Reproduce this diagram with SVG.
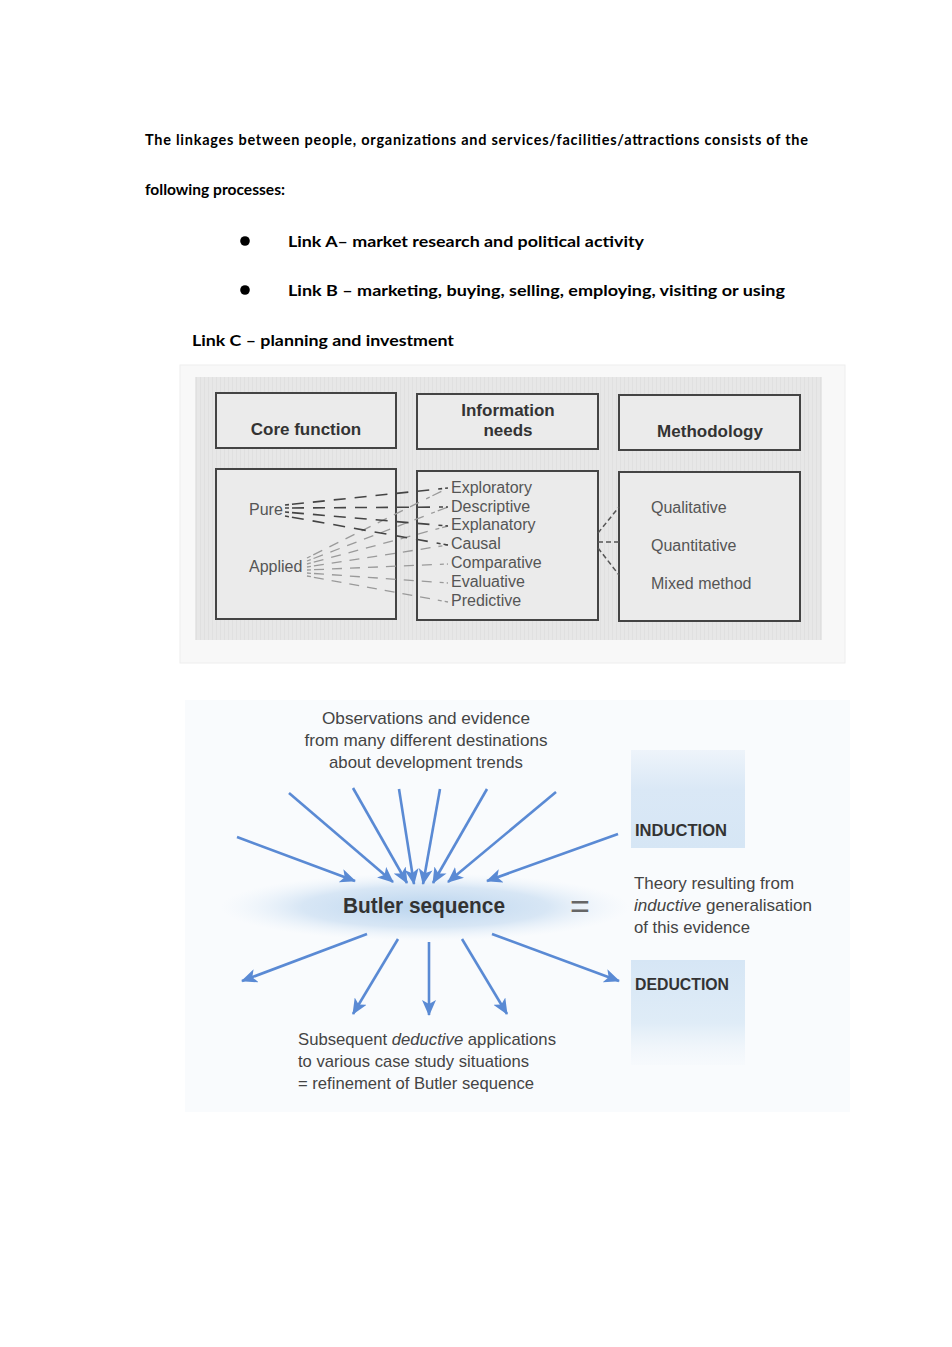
<svg xmlns="http://www.w3.org/2000/svg" width="952" height="1347" viewBox="0 0 952 1347">
<defs>
<style>
.p{font-family:Lato,"Liberation Sans",sans-serif;font-weight:bold;fill:#000}
.hd{font-family:"Liberation Sans",Arial,sans-serif;font-weight:bold;font-size:17px;fill:#333;text-anchor:middle}
.lt{font-family:"Liberation Sans",Arial,sans-serif;font-size:16px;fill:#555}
.box{fill:#ebebeb;stroke:#444;stroke-width:2}
.dk{stroke:#444;stroke-width:1.6;stroke-dasharray:4 3 12 9 12 9 12 9 12 9 12 9 12 9 12 9;fill:none}
.lg{stroke:#9a9a9a;stroke-width:1.3;stroke-dasharray:4 3 10 8 10 8 10 8 10 8 10 8 10 8 10 8;fill:none}
.md{stroke:#555;stroke-width:1.5;stroke-dasharray:5 3;fill:none}
.bt{font-family:"Liberation Sans",Arial,sans-serif;font-size:17px;fill:#444}
.bb{font-family:"Liberation Sans",Arial,sans-serif;font-weight:bold;fill:#333}
.eq{font-family:"Liberation Sans",Arial,sans-serif;font-size:34px;fill:#666;text-anchor:middle}
.ar{stroke:#5a8ad4;stroke-width:2.6;fill:none;marker-end:url(#ah)}
</style>
<marker id="ah" markerUnits="userSpaceOnUse" markerWidth="16" markerHeight="14" viewBox="0 0 16 14" refX="15" refY="7" orient="auto">
<path d="M0,0 L16,7 L0,14 L4,7 z" fill="#5a8ad4"/>
</marker>
<radialGradient id="glow" cx="0.5" cy="0.5" r="0.5">
<stop offset="0" stop-color="#b9d4ee"/>
<stop offset="0.6" stop-color="#cfe1f3" stop-opacity="0.8"/>
<stop offset="1" stop-color="#e8f1fa" stop-opacity="0"/>
</radialGradient>
<linearGradient id="indg" x1="0" y1="0" x2="0" y2="1">
<stop offset="0" stop-color="#dce9f6" stop-opacity="0.4"/>
<stop offset="0.4" stop-color="#dae8f6"/>
<stop offset="1" stop-color="#d6e6f5"/>
</linearGradient>
<linearGradient id="dedg" x1="0" y1="0" x2="0" y2="1">
<stop offset="0" stop-color="#d6e6f5"/>
<stop offset="0.6" stop-color="#dfecf7"/>
<stop offset="1" stop-color="#eef4fa" stop-opacity="0.2"/>
</linearGradient>
<pattern id="stripe" width="4" height="4" patternUnits="userSpaceOnUse">
<rect width="4" height="4" fill="#e7e7e7"/>
<rect width="1" height="4" fill="#e0e0e0"/>
</pattern>
</defs>
<rect width="952" height="1347" fill="#ffffff"/>

<g id="intro">
<text class="p" x="145" y="145" font-size="14.5" textLength="663" lengthAdjust="spacing">The linkages between people, organizations and services/facilities/attractions consists of the</text>
<text class="p" x="145" y="195" font-size="14.5" textLength="140" lengthAdjust="spacingAndGlyphs">following processes:</text>
<circle cx="245" cy="241" r="4.8" fill="#000"/>
<circle cx="245" cy="290" r="4.8" fill="#000"/>
<text class="p" x="288" y="247" font-size="16" textLength="356" lengthAdjust="spacingAndGlyphs">Link A– market research and political activity</text>
<text class="p" x="288" y="296" font-size="16" textLength="497" lengthAdjust="spacingAndGlyphs">Link B – marketing, buying, selling, employing, visiting or using</text>
<text class="p" x="192" y="346" font-size="16" textLength="262" lengthAdjust="spacingAndGlyphs">Link C – planning and investment</text>
</g>

<g id="diagram1-frame">
<rect x="180" y="365" width="665" height="298" fill="#f8f8f8" stroke="#eeeeee" stroke-width="1"/>
<rect x="195" y="377" width="627" height="263" fill="url(#stripe)"/>
</g>

<g id="core-function">
<rect class="box" x="216" y="393" width="180" height="55"/>
<text class="hd" x="306" y="435">Core function</text>
</g>
<g id="information-needs">
<rect class="box" x="417" y="394" width="181" height="55"/>
<text class="hd" x="508" y="416">Information</text>
<text class="hd" x="508" y="436">needs</text>
</g>
<g id="methodology">
<rect class="box" x="619" y="395" width="181" height="55"/>
<text class="hd" x="710" y="437">Methodology</text>
</g>

<g id="core-types">
<rect class="box" x="216" y="469" width="180" height="150"/>
<text class="lt" x="249" y="515">Pure</text>
<text class="lt" x="249" y="572">Applied</text>
</g>
<g id="needs-list">
<rect class="box" x="417" y="471" width="181" height="149"/>
<text class="lt" x="451" y="493">Exploratory</text>
<text class="lt" x="451" y="512">Descriptive</text>
<text class="lt" x="451" y="530">Explanatory</text>
<text class="lt" x="451" y="549">Causal</text>
<text class="lt" x="451" y="568">Comparative</text>
<text class="lt" x="451" y="587">Evaluative</text>
<text class="lt" x="451" y="606">Predictive</text>
</g>
<g id="methods">
<rect class="box" x="619" y="472" width="181" height="149"/>
<text class="lt" x="651" y="513">Qualitative</text>
<text class="lt" x="651" y="551">Quantitative</text>
<text class="lt" x="651" y="589">Mixed method</text>
</g>

<g id="connectors-diagram1">
<line class="lg" x1="307" y1="558" x2="448" y2="488"/>
<line class="lg" x1="307" y1="561" x2="448" y2="507"/>
<line class="lg" x1="307" y1="564" x2="448" y2="526"/>
<line class="lg" x1="307" y1="567" x2="448" y2="545"/>
<line class="lg" x1="307" y1="570" x2="448" y2="564"/>
<line class="lg" x1="307" y1="573" x2="448" y2="583"/>
<line class="lg" x1="307" y1="576" x2="448" y2="602"/>
<line class="dk" x1="285" y1="505" x2="448" y2="488"/>
<line class="dk" x1="285" y1="508" x2="448" y2="507"/>
<line class="dk" x1="285" y1="512" x2="448" y2="526"/>
<line class="dk" x1="285" y1="516" x2="448" y2="545"/>
<line class="md" x1="598" y1="533" x2="619" y2="507"/>
<line class="md" x1="598" y1="542" x2="619" y2="542"/>
<line class="md" x1="598" y1="548" x2="619" y2="575"/>
</g>

<g id="diagram2-frame">
<rect x="185" y="700" width="665" height="412" fill="#f9fbfd"/>
<ellipse cx="425" cy="907" rx="205" ry="34" fill="url(#glow)"/>
</g>

<g id="observations">
<text class="bt" x="426" y="724" text-anchor="middle" textLength="208" lengthAdjust="spacingAndGlyphs">Observations and evidence</text>
<text class="bt" x="426" y="746" text-anchor="middle" textLength="243" lengthAdjust="spacingAndGlyphs">from many different destinations</text>
<text class="bt" x="426" y="768" text-anchor="middle" textLength="194" lengthAdjust="spacingAndGlyphs">about development trends</text>
</g>

<g id="butler">
<text class="bb" x="424" y="913" font-size="22" text-anchor="middle" textLength="162" lengthAdjust="spacingAndGlyphs">Butler sequence</text>
</g>

<g id="equals">
<text class="eq" x="580" y="918">=</text>
</g>

<g id="induction">
<rect x="631" y="750" width="114" height="98" fill="url(#indg)"/>
<text class="bb" x="635" y="836" font-size="17" textLength="92" lengthAdjust="spacingAndGlyphs">INDUCTION</text>
</g>

<g id="theory">
<text class="bt" x="634" y="889" textLength="160" lengthAdjust="spacingAndGlyphs">Theory resulting from</text>
<text class="bt" x="634" y="911" textLength="178" lengthAdjust="spacingAndGlyphs"><tspan font-style="italic">inductive</tspan> generalisation</text>
<text class="bt" x="634" y="933" textLength="116" lengthAdjust="spacingAndGlyphs">of this evidence</text>
</g>

<g id="deduction">
<rect x="631" y="960" width="114" height="105" fill="url(#dedg)"/>
<text class="bb" x="635" y="990" font-size="17" textLength="94" lengthAdjust="spacingAndGlyphs">DEDUCTION</text>
</g>

<g id="subsequent">
<text class="bt" x="298" y="1045" textLength="258" lengthAdjust="spacingAndGlyphs">Subsequent <tspan font-style="italic">deductive</tspan> applications</text>
<text class="bt" x="298" y="1067" textLength="231" lengthAdjust="spacingAndGlyphs">to various case study situations</text>
<text class="bt" x="298" y="1089" textLength="236" lengthAdjust="spacingAndGlyphs">= refinement of Butler sequence</text>
</g>

<g id="connectors-diagram2">
<line class="ar" x1="237" y1="837" x2="355" y2="881"/>
<line class="ar" x1="289" y1="793" x2="393" y2="882"/>
<line class="ar" x1="353" y1="788" x2="407" y2="883"/>
<line class="ar" x1="399" y1="789" x2="414" y2="884"/>
<line class="ar" x1="440" y1="789" x2="423" y2="884"/>
<line class="ar" x1="487" y1="789" x2="433" y2="883"/>
<line class="ar" x1="556" y1="792" x2="448" y2="882"/>
<line class="ar" x1="618" y1="834" x2="487" y2="881"/>
<line class="ar" x1="367" y1="934" x2="242" y2="981"/>
<line class="ar" x1="398" y1="939" x2="353" y2="1014"/>
<line class="ar" x1="429" y1="942" x2="429" y2="1015"/>
<line class="ar" x1="462" y1="939" x2="507" y2="1014"/>
<line class="ar" x1="492" y1="934" x2="619" y2="981"/>
</g>
</svg>
